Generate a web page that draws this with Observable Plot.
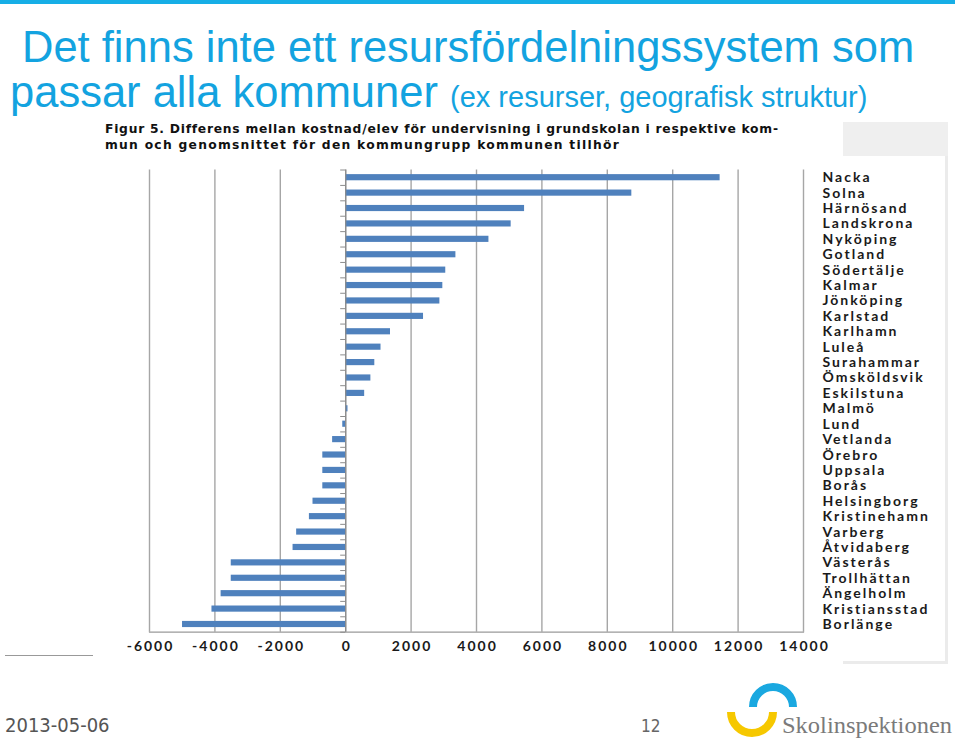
<!DOCTYPE html>
<html>
<head>
<meta charset="utf-8">
<script src="https://cdn.jsdelivr.net/npm/d3@7"></script>
<script src="https://cdn.jsdelivr.net/npm/@observablehq/plot@0.6"></script>
<style>
  html, body { margin: 0; padding: 0; background: #fff; }
  #page { position: relative; width: 959px; height: 742px; overflow: hidden; font-family: Arial, "Liberation Sans", sans-serif; }
  .abs { position: absolute; }
  #topbar { left: 0; top: 0; width: 955px; height: 4px; background: #16aee6; }
  #title1 { left: 22px; top: 26px; font-size: 43.5px; color: #13a3e0; white-space: nowrap; line-height: 1; }
  #title2 { left: 10px; top: 71px; font-size: 43.5px; color: #13a3e0; white-space: nowrap; line-height: 1; }
  #title2 small { font-size: 29px; }
  #fig { left: 105px; top: 122px; font-family: "DejaVu Sans", Verdana, sans-serif; font-weight: bold; font-size: 12.3px; color: #111; line-height: 15.5px; white-space: nowrap; }
  #fig span { display: inline-block; }
  #graytop { left: 843px; top: 122px; width: 105px; height: 34px; background: #efefef; }
  #rborder { left: 945px; top: 156px; width: 3px; height: 507px; background: #ebebeb; }
  #bborder { left: 843px; top: 661px; width: 105px; height: 3px; background: #ebebeb; }
  #lline { left: 5px; top: 655px; width: 88px; height: 1px; background: #999; }
  #chart { left: 0; top: 150px; }
  #chart svg { display: block; }
  #date { left: 5px; top: 713px; font-size: 20px; color: #555; font-family: "Liberation Sans Narrow", "DejaVu Sans Condensed", Arial, sans-serif; }
  #pagenum { left: 641px; top: 716px; font-size: 17px; color: #666; font-family: "Liberation Sans Narrow", "DejaVu Sans Condensed", Arial, sans-serif; }
  #logo { left: 720px; top: 676px; overflow: visible; }
</style>
</head>
<body>
<div id="page">
  <div id="topbar" class="abs"></div>
  <div id="title1" class="abs">Det finns inte ett resursfördelningssystem som</div>
  <div id="title2" class="abs">passar alla kommuner <small>(ex resurser, geografisk struktur)</small></div>
  <div id="fig" class="abs"><span id="fig1">Figur 5. Differens mellan kostnad/elev för undervisning i grundskolan i respektive kom-</span><br><span id="fig2">mun och genomsnittet för den kommungrupp kommunen tillhör</span></div>
  <div id="graytop" class="abs"></div>
  <div id="rborder" class="abs"></div>
  <div id="bborder" class="abs"></div>
  <div id="lline" class="abs"></div>
  <div id="chart" class="abs"></div>
  <div id="date" class="abs">2013-05-06</div>
  <div id="pagenum" class="abs">12</div>
  <svg id="logo" class="abs" width="236" height="66" viewBox="0 0 236 66">
    <path d="M 33 31 A 20 20 0 0 1 73 31" fill="none" stroke="#1aa8e0" stroke-width="8"/>
    <path d="M 11 36 A 21 21 0 0 0 53 36" fill="none" stroke="#f6c800" stroke-width="8"/>
    <text x="62" y="57" font-family="Liberation Serif, DejaVu Serif, serif" font-size="24" fill="#7a7a7a" textLength="170" lengthAdjust="spacingAndGlyphs">Skolinspektionen</text>
  </svg>
</div>
<script>
const names = ["Nacka","Solna","Härnösand","Landskrona","Nyköping","Gotland","Södertälje","Kalmar","Jönköping","Karlstad","Karlhamn","Luleå","Surahammar","Ömsköldsvik","Eskilstuna","Malmö","Lund","Vetlanda","Örebro","Uppsala","Borås","Helsingborg","Kristinehamn","Varberg","Åtvidaberg","Västerås","Trollhättan","Ängelholm","Kristiansstad","Borlänge"];
const values = [11450, 8750, 5470, 5060, 4380, 3370, 3060, 2970, 2880, 2380, 1370, 1080, 890, 770, 580, 70, -90, -400, -700, -700, -700, -1000, -1110, -1500, -1610, -3500, -3500, -3810, -4090, -4990];
const xTicks = [-6000, -4000, -2000, 0, 2000, 4000, 6000, 8000, 10000, 12000, 14000];

const data = names.map((name, i) => ({name, value: values[i]}));

// fit caption lines to the widths seen in the reference
function fit(id, target) {
  const el = document.getElementById(id);
  el.style.letterSpacing = "0px";
  const w = el.getBoundingClientRect().width;
  const n = el.textContent.length;
  el.style.letterSpacing = ((target - w) / n) + "px";
}
fit("fig1", 673);
fit("fig2", 515);

const W = 959, H = 510, mt = 19.5, mb = 28.3, ml = 149, mr = 156;
const step = (H - mt - mb) / names.length;

const plot = Plot.plot({
  width: W,
  height: H,
  marginTop: mt,
  marginBottom: mb,
  marginLeft: ml,
  marginRight: mr,
  style: {fontFamily: "Lato, 'DejaVu Sans', sans-serif", fontWeight: "bold", fontSize: "14px", letterSpacing: "2px", color: "#1a1a1a", background: "transparent"},
  x: {domain: [-6000, 14000]},
  y: {domain: names, paddingInner: 0.6, paddingOuter: 0.3, round: false},
  marks: [
    Plot.ruleX(xTicks, {stroke: "#a6a6a6", strokeWidth: 1.4}),
    Plot.frame({anchor: "bottom", stroke: "#9a9a9a", strokeWidth: 1.2}),
    Plot.barX(data, {x: "value", y: "name", fill: "#4f81bd"}),
    Plot.ruleX([0], {stroke: "#8c8c8c", strokeWidth: 1.2}),
    Plot.ruleY(names, {y: d => d, x1: 0, x2: 0, insetLeft: -5, dy: -step / 2, stroke: "#8c8c8c"}),
    Plot.ruleY(names.slice(-1), {y: d => d, x1: 0, x2: 0, insetLeft: -5, dy: step / 2, stroke: "#8c8c8c"}),
    Plot.axisY({anchor: "right", tickSize: 0, tickPadding: 19, label: null}),
    Plot.axisX({ticks: xTicks, tickSize: 0, tickPadding: 9, dx: 1, tickFormat: d => String(d), label: null})
  ]
});
document.getElementById("chart").appendChild(plot);
</script>
</body>
</html>
